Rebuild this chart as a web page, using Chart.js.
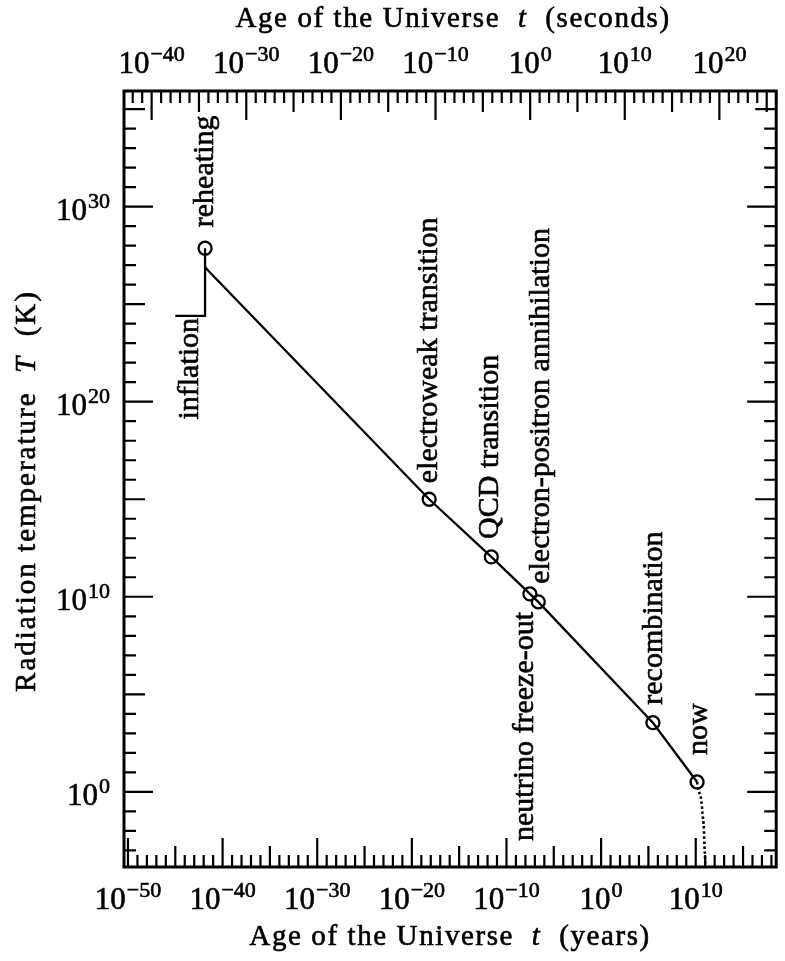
<!DOCTYPE html>
<html>
<head>
<meta charset="utf-8">
<script src="https://cdn.jsdelivr.net/npm/chart.js@4.4.1/dist/chart.umd.min.js"></script>
<style>
  html, body { margin: 0; padding: 0; background: #fff; }
  #wrap { width: 785px; height: 961px; }
</style>
</head>
<body>
<div id="wrap"><canvas id="chart" width="785" height="961"></canvas></div>
<script>
// ages in years, temperatures in kelvin
const eventNames = ['reheating', 'electroweak transition', 'QCD transition', 'neutrino freeze-out',
  'electron-positron annihilation', 'recombination', 'now'];
const eventYears = [1.4e-42, 6.8e-19, 2.5e-12, 3.0e-8, 2.3e-7, 3.0e5, 1.4e10];
const eventTemps = [7.4e27, 1.0e15, 1.1e12, 1.4e10, 5.5e9, 3.5e3, 3.2];

const inflationYears = [1.0e-45, 1.4e-42, 1.4e-42];
const inflationTemps = [2.5e24, 2.5e24, 7.4e27];

const historyYears = [1.4e-42, 3.5e-42, 6.8e-19, 2.5e-12, 3.0e-8, 2.3e-7, 3.0e5, 1.4e10];
const historyTemps = [8.0e26, 4.9e26, 1.0e15, 1.1e12, 1.4e10, 5.5e9, 3.5e3, 3.2];

const futureYears = [1.4e10, 2.0e10, 3.9e10, 5.2e10, 7.4e10, 8.5e10, 1.0e11, 1.05e11];
const futureTemps = [3.2, 1.2, 0.37, 0.078, 0.011, 1.5e-3, 2.6e-4, 1.0e-4];

// labelled powers of ten
const yearExponents = [-50, -40, -30, -20, -10, 0, 10];
const secondExponents = [-40, -30, -20, -10, 0, 10, 20];
const kelvinExponents = [0, 10, 20, 30];

const SECONDS_PER_YEAR = 3.156e7;
const X_MIN = 3.8e-51, X_MAX = 3.2e18;
const Y_MIN = 1.4e-4, Y_MAX = 8.5e35;

// label placement: baseline offset right of the circle, gap from circle centre
const labelPlacement = [
  { dx: 8, gap: 21 },
  { dx: 8, gap: 16 },
  { dx: 7, gap: 18 },
  { dx: 3, gap: 18, below: true },
  { dx: 11, gap: 18 },
  { dx: 9, gap: 18 },
  { dx: 10, gap: 27 }
];

const FONT = "'Liberation Serif', 'Times New Roman', serif";

function pts(xs, ys) {
  return xs.map((x, i) => ({ x: x, y: ys[i] }));
}

function expText(e) {
  return e < 0 ? '\u2212' + Math.abs(e) : String(e);
}

// scanned print looks heavier, so fill and lightly stroke the glyphs
function ink(ctx, text, x, y) {
  ctx.fillText(text, x, y);
  ctx.strokeText(text, x, y);
}

function drawPower(ctx, x, y, e, align) {
  ctx.font = '31px ' + FONT;
  const wBase = ctx.measureText('10').width;
  ctx.font = '22px ' + FONT;
  const wExp = ctx.measureText(expText(e)).width;
  const total = wBase + wExp + 1;
  let left = x - total / 2;
  if (align === 'right') left = x - total;
  ctx.textAlign = 'left';
  ctx.textBaseline = 'alphabetic';
  ctx.font = '31px ' + FONT;
  ink(ctx, '10', left, y);
  ctx.font = '22px ' + FONT;
  ink(ctx, expText(e), left + wBase + 1, y - 12);
}

function drawRich(ctx, parts, x, y, spacing) {
  ctx.letterSpacing = spacing + 'px';
  let total = 0;
  parts.forEach(p => {
    ctx.font = (p[1] ? 'italic ' : '') + '29px ' + FONT;
    total += ctx.measureText(p[0]).width;
  });
  let cx = x - total / 2;
  ctx.textAlign = 'left';
  parts.forEach(p => {
    ctx.font = (p[1] ? 'italic ' : '') + '29px ' + FONT;
    ink(ctx, p[0], cx, y);
    cx += ctx.measureText(p[0]).width;
  });
  ctx.letterSpacing = '0px';
}

function tickLen(e) {
  if (e % 10 === 0) return 29;
  if (e % 5 === 0) return 21;
  return 12;
}

const axesPlugin = {
  id: 'axesPlugin',
  afterDatasetsDraw(chart) {
    const ctx = chart.ctx;
    const a = chart.chartArea;
    const sx = chart.scales.x, st = chart.scales.xTop, sy = chart.scales.y;
    ctx.save();
    ctx.strokeStyle = '#000';
    ctx.fillStyle = '#000';

    // frame
    ctx.lineWidth = 3;
    ctx.strokeRect(a.left, a.top, a.right - a.left, a.bottom - a.top);

    // inward decade ticks
    ctx.lineWidth = 2.2;
    ctx.beginPath();
    for (let e = Math.ceil(Math.log10(X_MIN)); e <= Math.log10(X_MAX); e++) {
      const px = sx.getPixelForValue(Math.pow(10, e));
      ctx.moveTo(px, a.bottom);
      ctx.lineTo(px, a.bottom - tickLen(e));
    }
    for (let e = Math.ceil(Math.log10(st.min)); e <= Math.log10(st.max); e++) {
      const px = st.getPixelForValue(Math.pow(10, e));
      ctx.moveTo(px, a.top);
      ctx.lineTo(px, a.top + tickLen(e));
    }
    for (let e = Math.ceil(Math.log10(Y_MIN)); e <= Math.log10(Y_MAX); e++) {
      const py = sy.getPixelForValue(Math.pow(10, e));
      ctx.moveTo(a.left, py);
      ctx.lineTo(a.left + tickLen(e), py);
      ctx.moveTo(a.right, py);
      ctx.lineTo(a.right - tickLen(e), py);
    }
    ctx.stroke();

    ctx.lineWidth = 0.6;

    // tick labels
    yearExponents.forEach(e => drawPower(ctx, sx.getPixelForValue(Math.pow(10, e)), a.bottom + 42, e, 'center'));
    secondExponents.forEach(e => drawPower(ctx, st.getPixelForValue(Math.pow(10, e)), a.top - 18, e, 'center'));
    kelvinExponents.forEach(e => drawPower(ctx, a.left - 14, sy.getPixelForValue(Math.pow(10, e)) + 13, e, 'right'));

    // axis titles
    const mid = (a.left + a.right) / 2;
    drawRich(ctx, [['Age of the Universe  ', false], ['t', true], ['  (years)', false]], mid, 945, 1.6);
    drawRich(ctx, [['Age of the Universe  ', false], ['t', true], ['  (seconds)', false]], mid + 3, 27, 1.6);
    ctx.save();
    ctx.translate(35, 491);
    ctx.rotate(-Math.PI / 2);
    drawRich(ctx, [['Radiation temperature  ', false], ['T', true], ['  (K)', false]], 0, 0, 2);
    ctx.restore();

    // event labels
    ctx.font = '30px ' + FONT;
    ctx.textBaseline = 'alphabetic';
    eventNames.forEach((name, i) => {
      const p = labelPlacement[i];
      const px = sx.getPixelForValue(eventYears[i]);
      const py = sy.getPixelForValue(eventTemps[i]);
      ctx.save();
      ctx.translate(px + p.dx, p.below ? py + p.gap : py - p.gap);
      ctx.rotate(-Math.PI / 2);
      ctx.textAlign = p.below ? 'right' : 'left';
      ink(ctx, name, 0, 0);
      ctx.restore();
    });

    // inflation label under the start of the plateau
    const ix = sx.getPixelForValue(inflationYears[0]);
    const iy = sy.getPixelForValue(inflationTemps[0]);
    ctx.save();
    ctx.translate(ix + 23, iy + 2);
    ctx.rotate(-Math.PI / 2);
    ctx.textAlign = 'right';
    ink(ctx, 'inflation', 0, 0);
    ctx.restore();

    ctx.restore();
  }
};

const lineStyle = { showLine: true, borderColor: '#000', borderWidth: 2.3, pointRadius: 0, fill: false, tension: 0 };

new Chart(document.getElementById('chart'), {
  type: 'scatter',
  data: {
    datasets: [
      Object.assign({ data: pts(inflationYears, inflationTemps) }, lineStyle),
      Object.assign({ data: pts(historyYears, historyTemps) }, lineStyle),
      Object.assign({ data: pts(futureYears, futureTemps) }, lineStyle, { cubicInterpolationMode: 'monotone', borderDash: [2.5, 2.5], borderWidth: 2.6 }),
      {
        data: pts(eventYears, eventTemps),
        showLine: false,
        pointRadius: 6.5,
        pointBorderWidth: 2.3,
        pointBorderColor: '#000',
        pointBackgroundColor: 'rgba(0,0,0,0)'
      }
    ]
  },
  options: {
    responsive: false,
    animation: false,
    devicePixelRatio: 1,
    events: [],
    layout: { padding: { left: 124, right: 4, top: 91, bottom: 94 } },
    plugins: { legend: { display: false }, tooltip: { enabled: false } },
    scales: {
      x: { type: 'logarithmic', min: X_MIN, max: X_MAX, bounds: 'data', display: false },
      xTop: { type: 'logarithmic', axis: 'x', position: 'top', min: X_MIN * SECONDS_PER_YEAR, max: X_MAX * SECONDS_PER_YEAR, bounds: 'data', display: false },
      y: { type: 'logarithmic', min: Y_MIN, max: Y_MAX, bounds: 'data', display: false }
    }
  },
  plugins: [axesPlugin]
});
</script>
</body>
</html>
